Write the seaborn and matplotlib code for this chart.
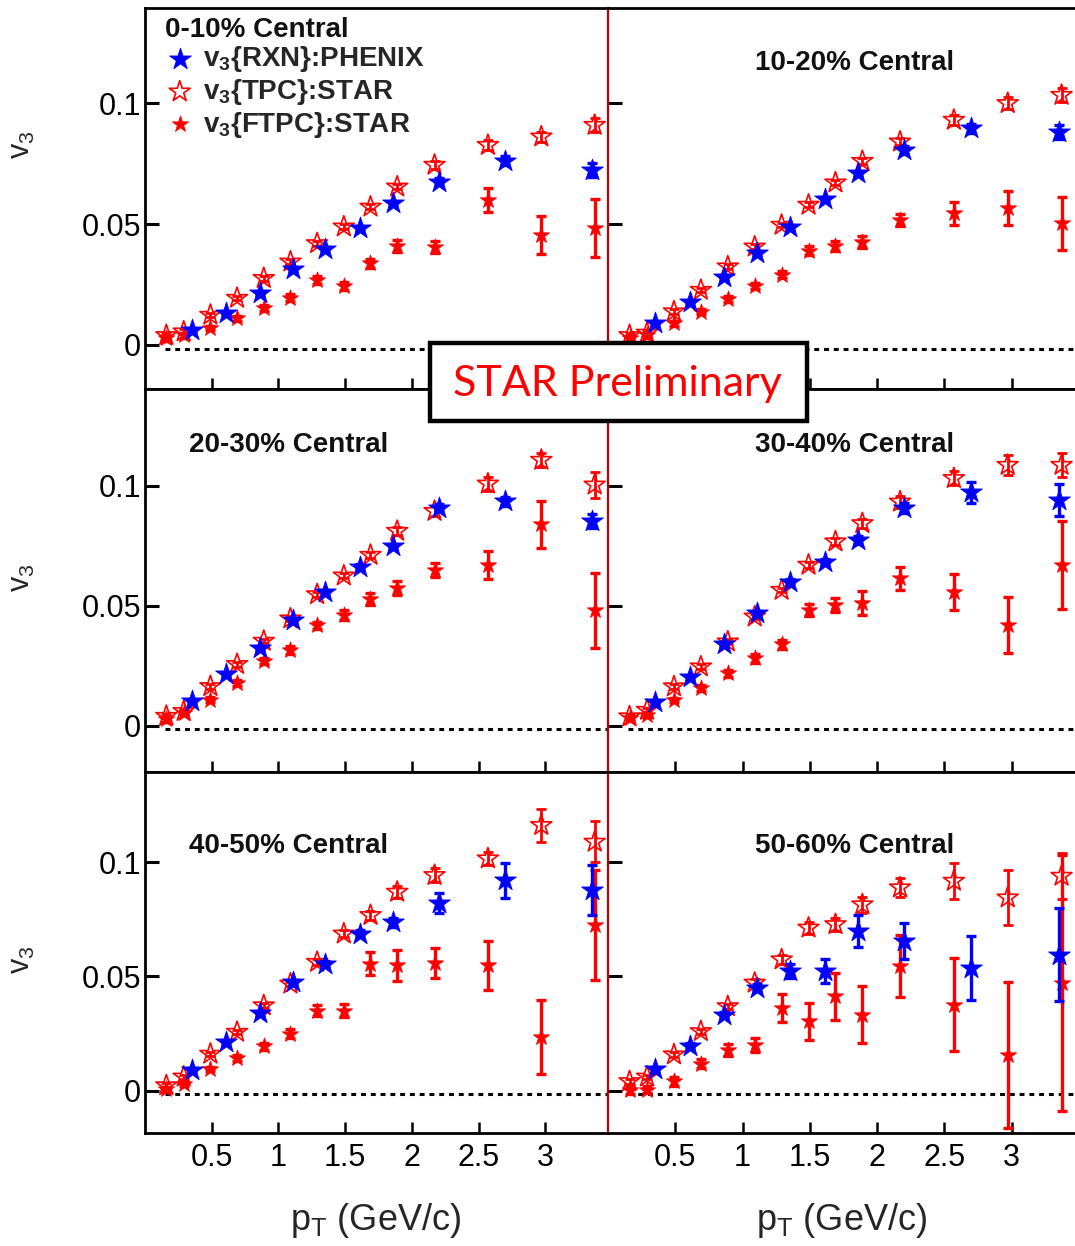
import numpy as np
import pandas as pd
import matplotlib
matplotlib.use("Agg")
import matplotlib.pyplot as plt
from matplotlib.patches import Rectangle
import seaborn as sns

# ---------------- data ----------------
CENTRALITIES = ["0-10% Central", "10-20% Central", "20-30% Central",
                "30-40% Central", "40-50% Central", "50-60% Central"]

STAR_PT = [0.16, 0.29, 0.49, 0.69, 0.89, 1.09, 1.29, 1.49, 1.69, 1.89, 2.17, 2.57, 2.97, 3.37]
PHENIX_PT = [0.35, 0.61, 0.86, 1.11, 1.35, 1.61, 1.86, 2.2, 2.7, 3.35]

TPC_0_10 = [0.004, 0.0055, 0.0124, 0.0194, 0.0276, 0.0344, 0.042, 0.0489, 0.0571, 0.0654, 0.0744, 0.0826, 0.0861, 0.0909]
TPC_10_20 = [0.004, 0.005, 0.0138, 0.0227, 0.0324, 0.0406, 0.0496, 0.0579, 0.0671, 0.076, 0.084, 0.093, 0.0999, 0.1033]
TPC_20_30 = [0.004, 0.006, 0.0164, 0.0256, 0.0353, 0.0446, 0.0547, 0.0625, 0.0711, 0.0811, 0.0894, 0.1008, 0.1107, 0.1004]
TPC_30_40 = [0.0038, 0.0065, 0.0163, 0.0246, 0.035, 0.0454, 0.0565, 0.067, 0.0767, 0.0843, 0.0933, 0.1031, 0.1086, 0.1086]
TPC_40_50 = [0.0022, 0.006, 0.016, 0.0256, 0.0372, 0.0467, 0.0562, 0.0686, 0.0767, 0.0869, 0.0942, 0.1015, 0.1161, 0.1088]
TPC_50_60 = [0.004, 0.006, 0.0157, 0.0259, 0.0368, 0.0471, 0.0573, 0.0712, 0.0727, 0.0814, 0.0888, 0.0917, 0.0844, 0.0939]

TPC_ERR_0_10 = [0.001, 0.001, 0.001, 0.001, 0.001, 0.001, 0.001, 0.001, 0.001, 0.001, 0.0015, 0.002, 0.002, 0.003]
TPC_ERR_10_20 = [0.001, 0.001, 0.001, 0.001, 0.001, 0.001, 0.001, 0.001, 0.001, 0.0012, 0.0015, 0.002, 0.0025, 0.003]
TPC_ERR_20_30 = [0.001, 0.001, 0.001, 0.001, 0.001, 0.001, 0.001, 0.001, 0.0012, 0.0015, 0.002, 0.003, 0.003, 0.0055]
TPC_ERR_30_40 = [0.001, 0.001, 0.001, 0.001, 0.001, 0.001, 0.001, 0.0012, 0.0015, 0.002, 0.0025, 0.003, 0.004, 0.005]
TPC_ERR_40_50 = [0.001, 0.001, 0.001, 0.001, 0.001, 0.001, 0.0012, 0.0015, 0.002, 0.0025, 0.003, 0.003, 0.0073, 0.009]
TPC_ERR_50_60 = [0.001, 0.001, 0.001, 0.001, 0.0012, 0.0015, 0.002, 0.0025, 0.003, 0.0035, 0.004, 0.0078, 0.012, 0.01]

FTPC_0_10 = [0.0028, 0.004, 0.007, 0.011, 0.0152, 0.0196, 0.0269, 0.0244, 0.0337, 0.0409, 0.0406, 0.0599, 0.0455, 0.0482]
FTPC_10_20 = [0.0028, 0.004, 0.009, 0.0138, 0.019, 0.0244, 0.029, 0.039, 0.041, 0.0427, 0.0517, 0.0544, 0.0565, 0.0503]
FTPC_20_30 = [0.0026, 0.0054, 0.0109, 0.0178, 0.027, 0.0315, 0.0419, 0.046, 0.0529, 0.0574, 0.065, 0.0669, 0.0839, 0.048]
FTPC_30_40 = [0.003, 0.0045, 0.0107, 0.0156, 0.0218, 0.0281, 0.0339, 0.0482, 0.0503, 0.051, 0.0614, 0.0558, 0.042, 0.067]
FTPC_40_50 = [0.0007, 0.003, 0.0095, 0.0143, 0.0193, 0.0248, 0.035, 0.035, 0.0555, 0.0548, 0.0558, 0.0548, 0.0234, 0.0723]
FTPC_50_60 = [0.0003, 0.0003, 0.004, 0.0117, 0.0178, 0.02, 0.0361, 0.0303, 0.0412, 0.0332, 0.0544, 0.0376, 0.0157, 0.0471]

FTPC_ERR_0_10 = [0.001, 0.001, 0.001, 0.001, 0.0012, 0.0015, 0.0015, 0.0015, 0.0018, 0.0025, 0.0025, 0.0048, 0.0078, 0.012]
FTPC_ERR_10_20 = [0.001, 0.001, 0.001, 0.001, 0.0012, 0.0012, 0.0015, 0.0018, 0.002, 0.0025, 0.0025, 0.0048, 0.007, 0.011]
FTPC_ERR_20_30 = [0.001, 0.001, 0.001, 0.0012, 0.0012, 0.0015, 0.0015, 0.002, 0.0025, 0.003, 0.003, 0.0059, 0.0098, 0.0155]
FTPC_ERR_30_40 = [0.001, 0.001, 0.001, 0.0012, 0.0015, 0.0018, 0.002, 0.0025, 0.003, 0.005, 0.0049, 0.0076, 0.0118, 0.0184]
FTPC_ERR_40_50 = [0.001, 0.001, 0.001, 0.0012, 0.0015, 0.002, 0.0025, 0.003, 0.0051, 0.0067, 0.0066, 0.0106, 0.016, 0.024]
FTPC_ERR_50_60 = [0.002, 0.0015, 0.002, 0.002, 0.0025, 0.003, 0.006, 0.008, 0.0102, 0.0126, 0.0136, 0.0203, 0.032, 0.056]

PHENIX_0_10 = [0.0062, 0.0134, 0.0216, 0.0313, 0.0395, 0.0482, 0.0585, 0.0675, 0.0762, 0.0723]
PHENIX_10_20 = [0.009, 0.0179, 0.0282, 0.0379, 0.0489, 0.0602, 0.0709, 0.0806, 0.0895, 0.0881]
PHENIX_20_30 = [0.0102, 0.0215, 0.0322, 0.0439, 0.0556, 0.0662, 0.0749, 0.0908, 0.0935, 0.0853]
PHENIX_30_40 = [0.01, 0.0204, 0.0339, 0.0471, 0.06, 0.0683, 0.0774, 0.0906, 0.0972, 0.094]
PHENIX_40_50 = [0.009, 0.0212, 0.0339, 0.0474, 0.0555, 0.0686, 0.0737, 0.082, 0.092, 0.0876]
PHENIX_50_60 = [0.0094, 0.0196, 0.0332, 0.0449, 0.0522, 0.0522, 0.0697, 0.0654, 0.0537, 0.0595]

PHENIX_ERR_0_10 = [0.0008, 0.0008, 0.0008, 0.0008, 0.0008, 0.0008, 0.001, 0.0015, 0.002, 0.003]
PHENIX_ERR_10_20 = [0.0008, 0.0008, 0.0008, 0.0008, 0.0008, 0.0008, 0.001, 0.0015, 0.002, 0.003]
PHENIX_ERR_20_30 = [0.0008, 0.0008, 0.0008, 0.0008, 0.0008, 0.001, 0.001, 0.0015, 0.002, 0.003]
PHENIX_ERR_30_40 = [0.0008, 0.0008, 0.0008, 0.0008, 0.001, 0.001, 0.0015, 0.002, 0.0044, 0.0066]
PHENIX_ERR_40_50 = [0.001, 0.001, 0.001, 0.001, 0.0012, 0.0015, 0.002, 0.0044, 0.0077, 0.011]
PHENIX_ERR_50_60 = [0.001, 0.001, 0.001, 0.0015, 0.003, 0.0053, 0.007, 0.008, 0.0139, 0.0205]

TPC = [TPC_0_10, TPC_10_20, TPC_20_30, TPC_30_40, TPC_40_50, TPC_50_60]
TPC_ERR = [TPC_ERR_0_10, TPC_ERR_10_20, TPC_ERR_20_30, TPC_ERR_30_40, TPC_ERR_40_50, TPC_ERR_50_60]
FTPC = [FTPC_0_10, FTPC_10_20, FTPC_20_30, FTPC_30_40, FTPC_40_50, FTPC_50_60]
FTPC_ERR = [FTPC_ERR_0_10, FTPC_ERR_10_20, FTPC_ERR_20_30, FTPC_ERR_30_40, FTPC_ERR_40_50, FTPC_ERR_50_60]
PHENIX = [PHENIX_0_10, PHENIX_10_20, PHENIX_20_30, PHENIX_30_40, PHENIX_40_50, PHENIX_50_60]
PHENIX_ERR = [PHENIX_ERR_0_10, PHENIX_ERR_10_20, PHENIX_ERR_20_30, PHENIX_ERR_30_40, PHENIX_ERR_40_50, PHENIX_ERR_50_60]

LEGEND_LABELS = ["v$_3${RXN}:PHENIX", "v$_3${TPC}:STAR", "v$_3${FTPC}:STAR"]
X_TICKS = [0.5, 1, 1.5, 2, 2.5, 3]
X_TICK_LABELS = ["0.5", "1", "1.5", "2", "2.5", "3"]
Y_TICKS = [0, 0.05, 0.1]
Y_TICK_LABELS = ["0", "0.05", "0.1"]

# ---------------- style ----------------
sns.set_theme(style="ticks")
plt.rcParams["font.family"] = ["Liberation Sans", "DejaVu Sans"]
plt.rcParams["mathtext.default"] = "regular"

RED = "#ff0000"
BLUE = "#0000ff"
W, H = 1075, 1246
fig = plt.figure(figsize=(W / 100, H / 100), dpi=100)
fig.patch.set_facecolor("white")

COLS = [(145, 463), (608, 467)]
ROWS = [(8, 389), (389, 772), (772, 1133)]
YLIMS = [(-0.0182, 0.1393), (-0.0193, 0.1403), (-0.0186, 0.1394)]
LABEL_POS = [(165, 30), (755, 63), (189, 445), (755, 445), (189, 846), (755, 846)]

for i, cent in enumerate(CENTRALITIES):
    row, col = divmod(i, 2)
    x0, w = COLS[col]
    y0, y1 = ROWS[row]
    ax = fig.add_axes([x0 / W, 1 - y1 / H, w / W, (y1 - y0) / H])
    ax.set_facecolor("white")

    ax.hlines(-0.0015, 0.15, 3.47, colors="black", linestyles=(0, (1.6, 1.6)), linewidth=2.2, zorder=1)

    # STAR TPC (open stars)
    ax.errorbar(STAR_PT, TPC[i], yerr=TPC_ERR[i], fmt="none", ecolor=RED,
                elinewidth=2, capsize=3.5, capthick=2, zorder=2)
    sns.scatterplot(x=STAR_PT, y=TPC[i], ax=ax, marker="*", s=250, color=RED,
                    facecolor="none", edgecolor=RED, linewidth=1.2, zorder=3, legend=False)
    h_tpc = ax.collections[-1]

    # STAR FTPC (small filled stars)
    ax.errorbar(STAR_PT, FTPC[i], yerr=FTPC_ERR[i], fmt="none", ecolor=RED,
                elinewidth=2.4, capsize=3.5, capthick=2.4, zorder=4)
    sns.scatterplot(x=STAR_PT, y=FTPC[i], ax=ax, marker="*", s=150, color=RED,
                    edgecolor=RED, linewidth=0.6, zorder=5, legend=False)
    h_ftpc = ax.collections[-1]

    # PHENIX (filled blue stars)
    ax.errorbar(PHENIX_PT, PHENIX[i], yerr=PHENIX_ERR[i], fmt="none", ecolor=BLUE,
                elinewidth=2.4, capsize=3.5, capthick=2.4, zorder=6)
    sns.scatterplot(x=PHENIX_PT, y=PHENIX[i], ax=ax, marker="*", s=270, color=BLUE,
                    edgecolor=BLUE, linewidth=0.6, zorder=7, legend=False)
    h_phx = ax.collections[-1]

    ax.set_xlim(0, 3.47)
    ax.set_ylim(*YLIMS[row])
    ax.set_xlabel("")
    ax.set_ylabel("")
    ax.grid(False)
    ax.set_xticks(X_TICKS)
    ax.set_yticks(Y_TICKS)
    ax.tick_params(axis="both", direction="in", top=False, right=False, colors="black")
    ax.tick_params(axis="y", length=10, width=2.2, pad=3, labelsize=22)
    ax.tick_params(axis="x", length=8, width=1.8, pad=7, labelsize=22)
    if col == 0:
        ax.set_yticklabels(Y_TICK_LABELS)
    else:
        ax.tick_params(axis="y", labelleft=False)
    if row == 2:
        ax.set_xticklabels(X_TICK_LABELS)
    else:
        ax.tick_params(axis="x", labelbottom=False)

    for s in ["top", "bottom", "left", "right"]:
        ax.spines[s].set_color("black")
        ax.spines[s].set_linewidth(2.0)
    ax.spines["right"].set_visible(False)
    if col == 1:
        ax.spines["left"].set_color("#c00000")
        ax.spines["left"].set_linewidth(1.6)

    lx, ly = LABEL_POS[i]
    fig.text(lx / W, 1 - ly / H, cent, ha="left", va="center",
             fontsize=20, fontweight="bold", color="#111111")

    if i == 0:
        leg = ax.legend([h_phx, h_tpc, h_ftpc], LEGEND_LABELS, loc="upper left",
                        bbox_to_anchor=(0.045, 0.905), frameon=False,
                        prop={"weight": "bold", "size": 20}, handlelength=1.0,
                        handletextpad=0.35, labelspacing=0.1, borderpad=0,
                        borderaxespad=0)

# y labels
for yc in [145, 578, 960]:
    fig.text(22 / W, 1 - yc / H, "v$_3$", rotation=90, ha="center", va="center", fontsize=22)

# x labels
for xc in [376, 842]:
    fig.text(xc / W, 1 - 1220 / H, "p$_T$ (GeV/c)", ha="center", va="center", fontsize=26)

# STAR Preliminary box
fig.patches.append(Rectangle((430 / W, 1 - 421 / H), 377 / W, 78 / H,
                             transform=fig.transFigure, facecolor="white",
                             edgecolor="black", linewidth=3.2, zorder=10))
fig.text(617 / W, 1 - 384 / H, "STAR Preliminary", ha="center", va="center",
         fontsize=31, color=RED, family=["Lato", "Liberation Sans"], zorder=11)

fig.savefig("out.png", dpi=100, facecolor="white")
